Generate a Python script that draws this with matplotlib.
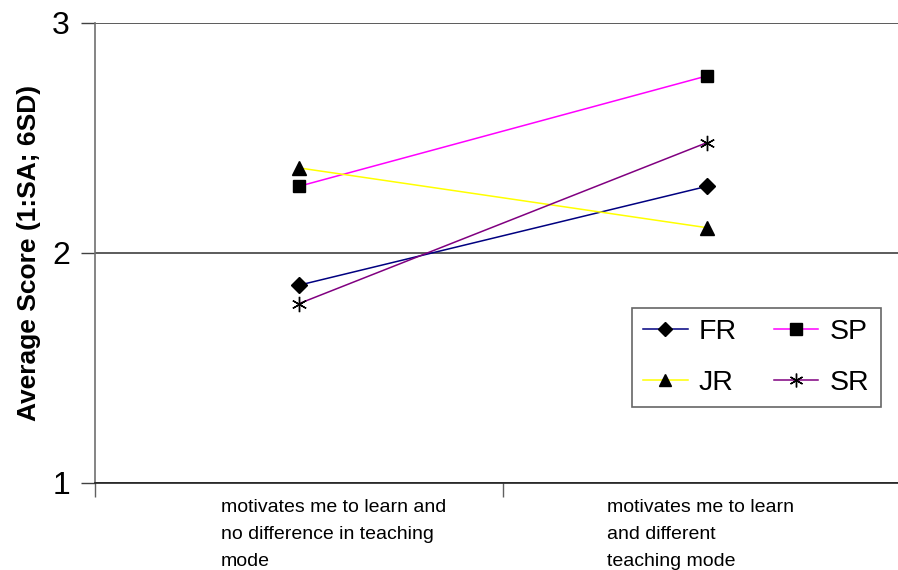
import matplotlib
matplotlib.use("Agg")
import matplotlib.pyplot as plt
from matplotlib.lines import Line2D
import matplotlib.transforms as mtransforms

plt.rcParams['font.family'] = ['Liberation Sans', 'DejaVu Sans']

categories = [
    "motivates me to learn and\nno difference in teaching\nmode",
    "motivates me to learn\nand different\nteaching mode",
]
series_names = ["FR", "SP", "JR", "SR"]
fr = [1.86, 2.29]
sp = [2.29, 2.77]
jr = [2.37, 2.11]
sr = [1.78, 2.48]
y_ticks = [1, 2, 3]

styles = {
    "FR": dict(color="#000080", marker="D", ms=8),
    "SP": dict(color="#FF00FF", marker="s", ms=9),
    "JR": dict(color="#FFFF00", marker="^", ms=10),
    "SR": dict(color="#800080", marker=(6, 2, 0), ms=11),
}
values = {"FR": fr, "SP": sp, "JR": jr, "SR": sr}

fig = plt.figure(figsize=(8.98, 5.70), dpi=100)
W, H = 898, 570
ax = fig.add_axes([95 / W, (570 - 483) / H, 816 / W, 460 / H])

xs = [i + 0.5 for i in range(len(categories))]
handles = {}
for name in series_names:
    st = styles[name]
    ax.plot(xs, values[name], color=st["color"], lw=1.1, zorder=2)
    ax.plot(xs, values[name], linestyle="none", marker=st["marker"],
            ms=st["ms"], mfc="black", mec="black", mew=1.0, zorder=3)
    handles[name] = Line2D([], [], color=st["color"], lw=1.1,
                           marker=st["marker"], ms=st["ms"] * 0.9,
                           mfc="black", mec="black")

ax.set_xlim(0, len(categories))
ax.set_ylim(1, 3)
ax.set_yticks(y_ticks)
ax.set_yticklabels([str(t) for t in y_ticks], fontsize=23)
for y in y_ticks:
    ax.axhline(y, color="#404040", lw=1.2, zorder=1)

ax.set_xticks(range(len(categories) + 1))
ax.set_xticklabels([])
ax.tick_params(axis="x", length=10, width=1, color="#606060", direction="out")
ax.tick_params(axis="y", length=10, width=1, color="#404040", direction="out", pad=8)

for s in ["top", "right"]:
    ax.spines[s].set_visible(False)
ax.spines["left"].set_color("#707070")
ax.spines["bottom"].set_color("#202020")
ax.spines["left"].set_linewidth(1.2)
ax.spines["bottom"].set_linewidth(1.2)

# category labels, left-aligned blocks under each category
offsets_px = [-78, -100]
for x, lab, off in zip(xs, categories, offsets_px):
    tr = ax.get_xaxis_transform() + mtransforms.ScaledTranslation(off / 100, 0, fig.dpi_scale_trans)
    ax.text(x, -0.035, lab, transform=tr, ha="left", va="top", fontsize=14,
            linespacing=1.75, color="black")

ax.set_ylabel("Average Score (1:SA; 6SD)", fontsize=19, fontweight="bold")
ax.yaxis.set_label_coords((41 - 95) / 816, 0.5)

# legend rows: FR SP / JR SR
order = ["FR", "JR", "SP", "SR"]
leg = fig.legend([handles[n] for n in order], order, ncol=2, loc="upper left",
                 bbox_to_anchor=(632 / W, 1 - 308 / H), bbox_transform=fig.transFigure,
                 frameon=True, fancybox=False, edgecolor="#404040", fontsize=20.5,
                 handlelength=1.55, handletextpad=0.4, columnspacing=1.3,
                 labelspacing=0.85, borderpad=0.4, borderaxespad=0)
leg.get_frame().set_linewidth(1.2)

fig.savefig("out.png", dpi=100)
